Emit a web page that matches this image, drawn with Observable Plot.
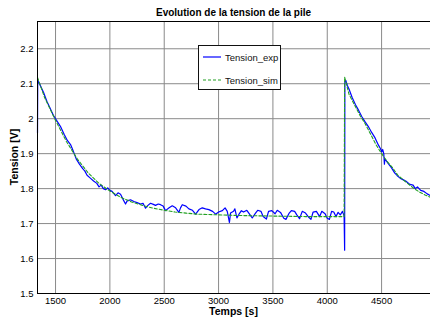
<!DOCTYPE html>
<html><head><meta charset="utf-8">
<script src="https://cdn.jsdelivr.net/npm/d3@7"></script>
<script src="https://cdn.jsdelivr.net/npm/@observablehq/plot@0.6"></script>
<style>
body{margin:0;background:#fff;font-family:"Liberation Sans",Arial,sans-serif;}
#wrap{position:relative;width:430px;height:320px;overflow:hidden;}
.t{position:absolute;white-space:nowrap;color:#000;line-height:1;}
#title{left:0;width:467px;text-align:center;top:8px;font-size:10px;font-weight:bold;}
#xlab{left:0;width:467px;text-align:center;top:306px;font-size:10.5px;font-weight:bold;}
#ylab{left:14px;top:157px;font-size:10.5px;font-weight:bold;transform:translate(-50%,-50%) rotate(-90deg);}
#legend{position:absolute;left:198px;top:45px;width:81px;height:43px;border:1.6px solid #111;background:#fff;font-size:9.5px;color:#111;}
</style>
</head><body>
<div id="wrap">
<div id="chart"></div>
<div class="t" id="title">Evolution de la tension de la pile</div>
<div class="t" id="xlab">Temps [s]</div>
<div class="t" id="ylab">Tension [V]</div>
<div id="legend"></div>
</div>
<script>
// Experimental voltage (Tension_exp)
const expT = [1334,1336,1360,1390,1420,1450,1480,1500,1530,1550,1580,1610,1640,1660,1690,1720,1750,1770,1790,1820,1850,1880,1900,1920,1940,1960,1980,2000,2020,2052,2075,2098,2120,2144,2159,2190,2221,2250,2282,2305,2328,2350,2374,2400,2420,2445,2466,2490,2512,2545,2574,2605,2635,2650,2666,2700,2727,2760,2789,2820,2850,2880,2911,2945,2973,3000,3035,3060,3080,3100,3110,3138,3150,3169,3190,3210,3230,3260,3290,3310,3340,3360,3390,3410,3440,3460,3490,3520,3540,3570,3600,3620,3650,3670,3700,3720,3745,3770,3800,3830,3850,3870,3900,3930,3950,3980,4000,4020,4040,4060,4080,4100,4120,4140,4155,4160,4162,4170,4185,4200,4230,4260,4290,4320,4350,4383,4410,4440,4470,4490,4500,4510,4520,4526,4530,4560,4590,4620,4644,4670,4700,4730,4760,4790,4810,4830,4860,4890,4920,4950];
const expV = [1.96,2.11,2.095,2.075,2.05,2.03,2.01,2.0,1.985,1.975,1.955,1.937,1.925,1.91,1.885,1.87,1.857,1.85,1.838,1.83,1.822,1.815,1.805,1.81,1.8,1.797,1.802,1.795,1.792,1.78,1.788,1.784,1.77,1.756,1.765,1.768,1.763,1.76,1.756,1.758,1.744,1.752,1.758,1.755,1.752,1.756,1.754,1.75,1.737,1.745,1.751,1.745,1.732,1.745,1.754,1.75,1.742,1.738,1.727,1.74,1.745,1.742,1.74,1.735,1.727,1.733,1.737,1.745,1.735,1.703,1.73,1.735,1.742,1.716,1.728,1.737,1.733,1.738,1.725,1.716,1.73,1.738,1.735,1.72,1.713,1.735,1.737,1.728,1.738,1.732,1.715,1.712,1.73,1.737,1.735,1.725,1.714,1.735,1.73,1.718,1.712,1.733,1.735,1.72,1.735,1.728,1.715,1.712,1.735,1.733,1.72,1.732,1.725,1.735,1.722,1.624,2.105,2.11,2.095,2.085,2.06,2.04,2.023,2.005,1.99,1.975,1.96,1.945,1.925,1.914,1.905,1.912,1.9,1.87,1.885,1.872,1.86,1.845,1.837,1.83,1.825,1.82,1.812,1.81,1.8,1.805,1.795,1.792,1.785,1.78];
// Simulated voltage (Tension_sim)
const simT = [1334,1400,1500,1600,1700,1800,1900,2000,2100,2200,2300,2400,2500,2600,2700,2800,3000,3200,3400,3600,3800,4000,4155,4160,4200,4250,4300,4350,4400,4450,4500,4550,4600,4650,4700,4750,4800,4850,4900,4950];
const simV = [2.118,2.06,1.995,1.935,1.885,1.845,1.815,1.793,1.775,1.762,1.752,1.744,1.738,1.733,1.73,1.727,1.725,1.723,1.722,1.721,1.72,1.72,1.72,2.119,2.07,2.04,2.01,1.985,1.955,1.925,1.9,1.878,1.86,1.838,1.825,1.812,1.8,1.79,1.782,1.775];
const xTicks = [1500,2000,2500,3000,3500,4000,4500];
const xTickLabels = ["1500","2000","2500","3000","3500","4000","4500"];
const yTicks = [1.5,1.6,1.7,1.8,1.9,2.0,2.1,2.2];
const yTickLabels = ["1.5","1.6","1.7","1.8","1.9","2","2.1","2.2"];
const seriesNames = ["Tension_exp","Tension_sim"];

const exp = expT.map((t,i)=>({t, v: expV[i]}));
const sim = simT.map((t,i)=>({t, v: simV[i]}));
const BLUE = "#0000ff", GREEN = "#22a022";

const chart = Plot.plot({
  width: 430, height: 320,
  marginTop: 21, marginBottom: 27, marginLeft: 37, marginRight: 0,
  style: {fontFamily: "'Liberation Sans', Arial, sans-serif", fontSize: "9.5px", background: "#fff", color: "#000", overflow: "visible"},
  x: {domain: [1334, 4950], ticks: xTicks, tickFormat: d => xTickLabels[xTicks.indexOf(d)], tickSize: 0, tickPadding: 4, label: null, line: true},
  y: {domain: [1.5, 2.278], ticks: yTicks, tickFormat: d => yTickLabels[yTicks.findIndex(v => Math.abs(v-d)<1e-9)], tickSize: 0, tickPadding: 4, label: null, line: true},
  marks: [
    Plot.ruleX(xTicks, {stroke: "#8a8a8a", strokeWidth: 1}),
    Plot.ruleY(yTicks.slice(1), {stroke: "#8a8a8a", strokeWidth: 1}),
    Plot.line(exp, {x: "t", y: "v", stroke: BLUE, strokeWidth: 1.2}),
    Plot.line(sim, {x: "t", y: "v", stroke: GREEN, strokeWidth: 1.1, strokeDasharray: "3,2"}),
    Plot.frame({stroke: "#000", strokeWidth: 1})
  ]
});
document.getElementById("chart").appendChild(chart);

// legend
const lg = document.getElementById("legend");
const styles = [{c: BLUE, d: ""}, {c: GREEN, d: "3,2"}];
seriesNames.forEach((name, i) => {
  const row = document.createElement("div");
  row.style.cssText = `position:absolute;left:2px;top:${5 + i*23}px;height:12px;display:flex;align-items:center;`;
  row.innerHTML = `<svg width="20" height="12"><line x1="2" x2="20" y1="6" y2="6" stroke="${styles[i].c}" stroke-width="1.2" stroke-dasharray="${styles[i].d}"/></svg><span style="margin-left:4px">${name}</span>`;
  lg.appendChild(row);
});
</script>
</body></html>
